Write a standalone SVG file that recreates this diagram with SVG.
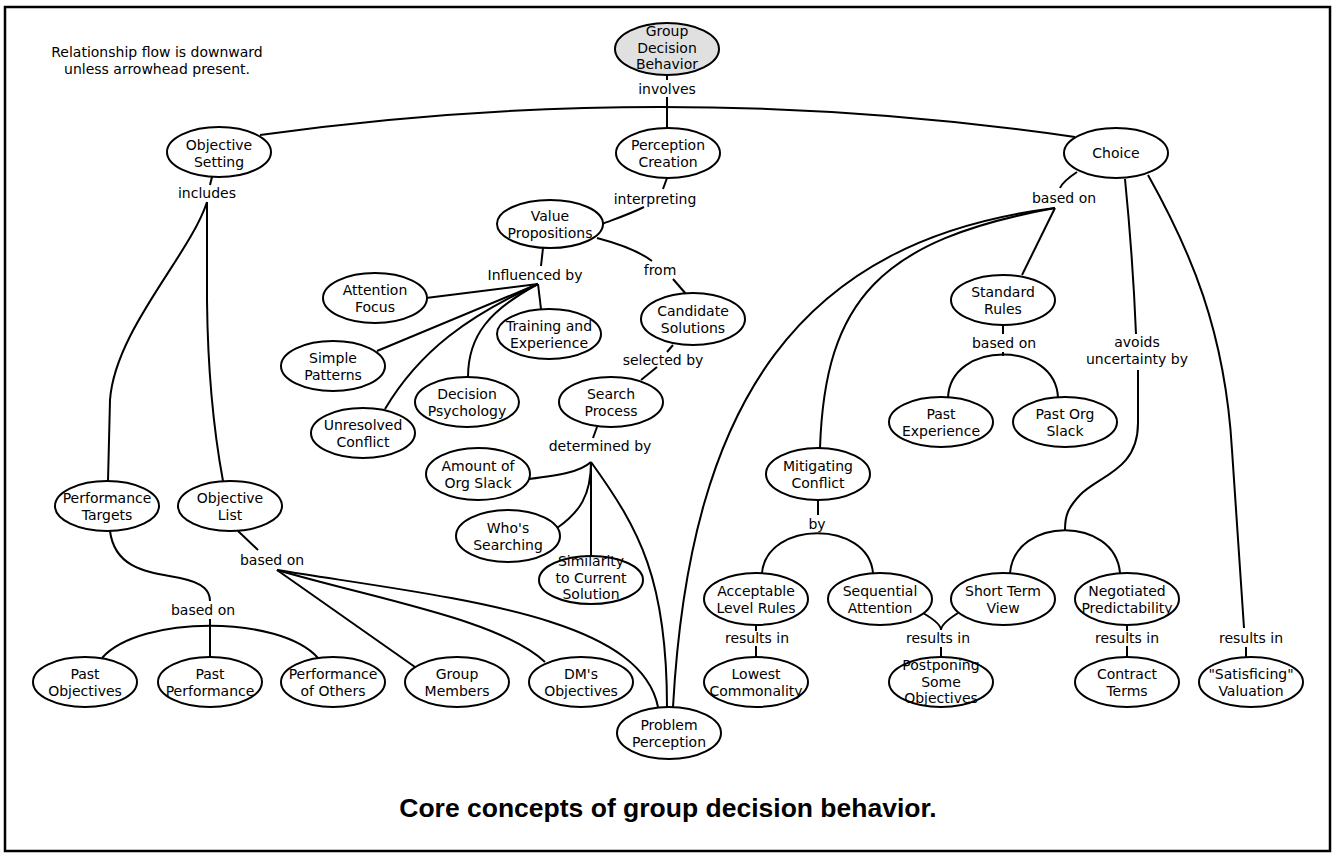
<svg xmlns="http://www.w3.org/2000/svg" width="1333" height="854" viewBox="0 0 1333 854">
<style>
.n ellipse{fill:#fff;stroke:#000;stroke-width:2}
.n.root ellipse{fill:#e0e0e0}
text{font-family:"DejaVu Sans","Liberation Sans",sans-serif;font-size:14px;fill:#000;text-anchor:middle}
.c path{fill:none;stroke:#000;stroke-width:2}
.title{font-family:"Liberation Sans",Arial,sans-serif;font-weight:bold;font-size:26.5px}
</style>
<rect x="5" y="7" width="1325" height="844" fill="#fff" stroke="#000" stroke-width="2.5"/>
<g id="note">
<text x="157" y="57">Relationship flow is downward</text>
<text x="157" y="73.5">unless arrowhead present.</text>
</g>
<g class="c" id="connectors">
<path d="M667,75 L667,80"/>
<path d="M667,97 L667,128"/>
<path d="M260,135 Q667,78 1075,137"/>
<path d="M212,177 L210,185"/>
<path d="M207,202 C190,255 115,330 110,400 L108,481"/>
<path d="M207,202 L207,300 Q208,400 223,481"/>
<path d="M667,178 L663,189"/>
<path d="M644,207 C630,214 615,219 602,224"/>
<path d="M543,248 L541,266"/>
<path d="M597,238 C620,244 640,252 652,261"/>
<path d="M673,279 L686,294"/>
<path d="M538,284 L426,298"/>
<path d="M538,284 L541,309"/>
<path d="M538,284 L377,351"/>
<path d="M538,284 C470,315 420,350 385,409"/>
<path d="M538,284 C490,310 468,335 468,377"/>
<path d="M673,345 L667,352"/>
<path d="M657,367 L641,380"/>
<path d="M597,427 L593,438"/>
<path d="M591,462 C580,472 560,475 529,479"/>
<path d="M591,462 C591,495 580,512 557,528"/>
<path d="M591,462 L591,556"/>
<path d="M591,462 C640,530 667,580 667,707"/>
<path d="M238,531 L258,550"/>
<path d="M277,570 L415,667"/>
<path d="M277,570 C380,600 500,620 545,662"/>
<path d="M277,570 C450,598 640,615 658,707"/>
<path d="M110,531 C115,570 150,572 180,578 C205,583 210,592 210,601"/>
<path d="M210,619 L210,657"/>
<path d="M102,658 C140,615 280,615 318,658"/>
<path d="M1077,172 C1068,178 1062,183 1060,188"/>
<path d="M1055,208 L1022,275"/>
<path d="M1055,208 C880,240 825,300 820,448"/>
<path d="M1055,208 C800,240 690,400 673,707"/>
<path d="M1003,325 L1003,334"/>
<path d="M1003,352 L1003,356"/>
<path d="M948,398 C950,340 1056,340 1058,398"/>
<path d="M1125,179 Q1133,260 1136,334"/>
<path d="M1138,370 L1138,423 C1138,470 1100,475 1080,495 C1068,508 1065,515 1065,530"/>
<path d="M1010,573 C1015,516 1115,516 1120,573"/>
<path d="M1148,175 C1190,250 1225,330 1232,450 L1244,628"/>
<path d="M1246,647 L1246,657"/>
<path d="M818,500 L818,515"/>
<path d="M762,573 C767,520 868,520 873,573"/>
<path d="M756,625 L756,631"/>
<path d="M756,646 L756,657"/>
<path d="M923,613 C935,620 941,625 941,630"/>
<path d="M958,613 C947,620 941,625 941,630"/>
<path d="M941,647 L941,657"/>
<path d="M1127,625 L1127,631"/>
<path d="M1127,646 L1127,657"/>
</g>
<g id="labels">
<text x="667" y="94">involves</text>
<text x="207" y="198">includes</text>
<text x="655" y="204">interpreting</text>
<text x="535" y="280">Influenced by</text>
<text x="660" y="275">from</text>
<text x="663" y="365">selected by</text>
<text x="600" y="451">determined by</text>
<text x="272" y="565">based on</text>
<text x="203" y="615">based on</text>
<text x="1064" y="203">based on</text>
<text x="1004" y="348">based on</text>
<text x="1137" y="347">avoids</text>
<text x="1137" y="363.5">uncertainty by</text>
<text x="817" y="529">by</text>
<text x="757" y="643">results in</text>
<text x="938" y="643">results in</text>
<text x="1127" y="643">results in</text>
<text x="1251" y="643">results in</text>
</g>
<g class="n root" id="gdb"><ellipse cx="667" cy="49" rx="52" ry="26"/><text x="667" y="36">Group</text><text x="667" y="52.5">Decision</text><text x="667" y="69">Behavior</text></g>
<g class="n" id="objset"><ellipse cx="219" cy="152" rx="52" ry="25"/><text x="219" y="150">Objective</text><text x="219" y="166.5">Setting</text></g>
<g class="n" id="perc"><ellipse cx="668" cy="153" rx="52" ry="25"/><text x="668" y="150">Perception</text><text x="668" y="166.5">Creation</text></g>
<g class="n" id="choice"><ellipse cx="1116" cy="153" rx="52" ry="25"/><text x="1116" y="158">Choice</text></g>
<g class="n" id="valprop"><ellipse cx="550" cy="224" rx="53" ry="24"/><text x="550" y="221">Value</text><text x="550" y="237.5">Propositions</text></g>
<g class="n" id="attn"><ellipse cx="375" cy="298" rx="52" ry="25"/><text x="375" y="295">Attention</text><text x="375" y="311.5">Focus</text></g>
<g class="n" id="train"><ellipse cx="549" cy="334" rx="52" ry="25"/><text x="549" y="331">Training and</text><text x="549" y="347.5">Experience</text></g>
<g class="n" id="simple"><ellipse cx="333" cy="366" rx="52" ry="25"/><text x="333" y="363">Simple</text><text x="333" y="379.5">Patterns</text></g>
<g class="n" id="decpsy"><ellipse cx="467" cy="402" rx="52" ry="25"/><text x="467" y="399">Decision</text><text x="467" y="415.5">Psychology</text></g>
<g class="n" id="unres"><ellipse cx="363" cy="433" rx="52" ry="25"/><text x="363" y="430">Unresolved</text><text x="363" y="446.5">Conflict</text></g>
<g class="n" id="cand"><ellipse cx="693" cy="319" rx="52" ry="26"/><text x="693" y="316">Candidate</text><text x="693" y="332.5">Solutions</text></g>
<g class="n" id="search"><ellipse cx="611" cy="402" rx="52" ry="25"/><text x="611" y="399">Search</text><text x="611" y="415.5">Process</text></g>
<g class="n" id="amount"><ellipse cx="478" cy="474" rx="52" ry="26"/><text x="478" y="471">Amount of</text><text x="478" y="487.5">Org Slack</text></g>
<g class="n" id="whos"><ellipse cx="508" cy="536" rx="52" ry="26"/><text x="508" y="533">Who's</text><text x="508" y="549.5">Searching</text></g>
<g class="n" id="simil"><ellipse cx="591" cy="580" rx="52" ry="24"/><text x="591" y="566">Similarity</text><text x="591" y="582.5">to Current</text><text x="591" y="599">Solution</text></g>
<g class="n" id="probperc"><ellipse cx="669" cy="733" rx="52" ry="26"/><text x="669" y="730">Problem</text><text x="669" y="746.5">Perception</text></g>
<g class="n" id="perftarg"><ellipse cx="107" cy="506" rx="52" ry="25"/><text x="107" y="503">Performance</text><text x="107" y="519.5">Targets</text></g>
<g class="n" id="objlist"><ellipse cx="230" cy="506" rx="52" ry="25"/><text x="230" y="503">Objective</text><text x="230" y="519.5">List</text></g>
<g class="n" id="pastobj"><ellipse cx="85" cy="682" rx="52" ry="25"/><text x="85" y="679">Past</text><text x="85" y="695.5">Objectives</text></g>
<g class="n" id="pastperf"><ellipse cx="210" cy="682" rx="52" ry="25"/><text x="210" y="679">Past</text><text x="210" y="695.5">Performance</text></g>
<g class="n" id="perfoth"><ellipse cx="333" cy="682" rx="52" ry="25"/><text x="333" y="679">Performance</text><text x="333" y="695.5">of Others</text></g>
<g class="n" id="groupmem"><ellipse cx="457" cy="682" rx="52" ry="25"/><text x="457" y="679">Group</text><text x="457" y="695.5">Members</text></g>
<g class="n" id="dmobj"><ellipse cx="581" cy="682" rx="52" ry="25"/><text x="581" y="679">DM's</text><text x="581" y="695.5">Objectives</text></g>
<g class="n" id="stdrules"><ellipse cx="1003" cy="300" rx="52" ry="25"/><text x="1003" y="297">Standard</text><text x="1003" y="313.5">Rules</text></g>
<g class="n" id="pastexp"><ellipse cx="941" cy="422" rx="52" ry="25"/><text x="941" y="419">Past</text><text x="941" y="435.5">Experience</text></g>
<g class="n" id="pastorg"><ellipse cx="1065" cy="422" rx="52" ry="25"/><text x="1065" y="419">Past Org</text><text x="1065" y="435.5">Slack</text></g>
<g class="n" id="mitig"><ellipse cx="818" cy="474" rx="52" ry="26"/><text x="818" y="471">Mitigating</text><text x="818" y="487.5">Conflict</text></g>
<g class="n" id="accept"><ellipse cx="756" cy="599" rx="52" ry="26"/><text x="756" y="596">Acceptable</text><text x="756" y="612.5">Level Rules</text></g>
<g class="n" id="lowest"><ellipse cx="756" cy="682" rx="52" ry="25"/><text x="756" y="679">Lowest</text><text x="756" y="695.5">Commonality</text></g>
<g class="n" id="seq"><ellipse cx="880" cy="599" rx="52" ry="26"/><text x="880" y="596">Sequential</text><text x="880" y="612.5">Attention</text></g>
<g class="n" id="shortterm"><ellipse cx="1003" cy="599" rx="52" ry="26"/><text x="1003" y="596">Short Term</text><text x="1003" y="612.5">View</text></g>
<g class="n" id="negot"><ellipse cx="1127" cy="599" rx="52" ry="26"/><text x="1127" y="596">Negotiated</text><text x="1127" y="612.5">Predictability</text></g>
<g class="n" id="postpone"><ellipse cx="941" cy="682" rx="52" ry="25"/><text x="941" y="670">Postponing</text><text x="941" y="686.5">Some</text><text x="941" y="703">Objectives</text></g>
<g class="n" id="contract"><ellipse cx="1127" cy="682" rx="52" ry="25"/><text x="1127" y="679">Contract</text><text x="1127" y="695.5">Terms</text></g>
<g class="n" id="satis"><ellipse cx="1251" cy="682" rx="52" ry="25"/><text x="1251" y="679">"Satisficing"</text><text x="1251" y="695.5">Valuation</text></g>
<text class="title" x="668" y="817">Core concepts of group decision behavior.</text>
</svg>
